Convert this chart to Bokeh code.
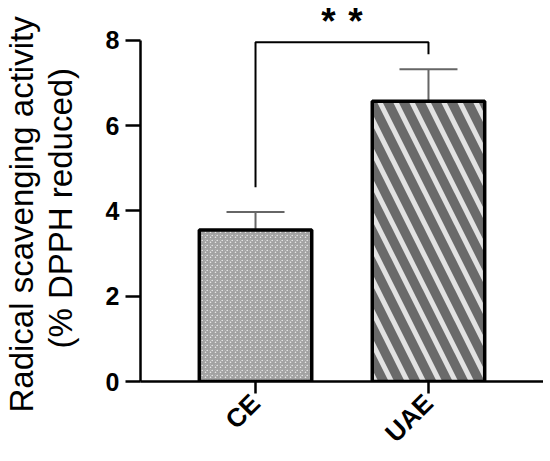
from bokeh.plotting import figure
from bokeh.models import FactorRange, Range1d, ColumnDataSource, Whisker, TeeHead, Label, Title
from bokeh.embed import file_html
from bokeh.resources import INLINE

# ---- data ----
categories = ["CE", "UAE"]
means = [3.55, 6.57]
errors = [0.42, 0.75]
y_ticks = [0, 2, 4, 6, 8]
bracket_x = ["CE", "CE", "UAE", "UAE"]
bracket_y = [4.55, 7.95, 7.95, 7.67]
significance = ["*", "*"]
y_title_lines = ["Radical scavenging activity", "(% DPPH reduced)"]

upper = [m + e for m, e in zip(means, errors)]
lower = [m - e for m, e in zip(means, errors)]

p = figure(
    width=543, height=461,
    x_range=FactorRange(factors=categories, range_padding=0.165, range_padding_units="absolute"),
    y_range=Range1d(0, 8.93),
    output_backend="svg", toolbar_location=None,
    min_border_left=139, min_border_right=0, min_border_top=0, min_border_bottom=78,
)
p.outline_line_color = None
p.grid.visible = False
p.background_fill_color = "white"

fills = ["white", "#6a6a6a"]
hatch_patterns = ["criss_cross", "left_diagonal_line"]
hatch_colors = ["#a2a2a2", "#e2e2e2"]
hatch_scales = [5, 32]
hatch_weights = [1.6, 5]

for i, c in enumerate(categories):
    p.vbar(x=[c], top=[means[i]], width=0.65, bottom=0,
           fill_color=fills[i], line_color="black", line_width=3.5,
           hatch_pattern=hatch_patterns[i], hatch_color=hatch_colors[i],
           hatch_scale=hatch_scales[i], hatch_weight=hatch_weights[i])

src = ColumnDataSource(dict(x=categories, upper=upper, lower=lower))
w = Whisker(base="x", upper="upper", lower="lower", source=src,
            line_color="#666666", line_width=2,
            upper_head=TeeHead(size=58, line_color="#666666", line_width=2),
            lower_head=TeeHead(size=58, line_color="#666666", line_width=2))
p.add_layout(w)

p.line(x=bracket_x, y=bracket_y, line_color="black", line_width=2)

for s, off in zip(significance, [-13.5, 13.5]):
    p.add_layout(Label(x=1.0, y=8.43, x_offset=off, text=s, text_font="Liberation Sans",
                       text_font_size="37px", text_font_style="bold", text_align="center",
                       text_baseline="middle", text_color="black"))

# y-axis title, one Title per line (inner line added first)
title_offsets = [-31, 33]
for line, off in reversed(list(zip(y_title_lines, title_offsets))):
    p.add_layout(Title(text=line, align="left", offset=off, standoff=0,
                       text_font="Liberation Sans", text_font_size="33px",
                       text_font_style="normal", text_color="black"), "left")

for ax in (p.xaxis[0], p.yaxis[0]):
    ax.axis_line_width = 2.5
    ax.axis_line_color = "black"
    ax.major_tick_line_width = 2.5
    ax.major_tick_line_color = "black"
    ax.major_tick_in = 0
    ax.minor_tick_line_color = None
    ax.major_label_text_font = "Liberation Sans"
    ax.major_label_text_font_style = "bold"
    ax.major_label_text_color = "black"

p.yaxis.bounds = (0, 8)
p.yaxis.ticker = y_ticks
p.yaxis.major_tick_out = 15
p.yaxis.major_label_standoff = 6
p.yaxis.major_label_text_font_size = "25px"
# blank spacer label: keeps a gap between tick labels and the title lines
p.yaxis.axis_label = " "
p.yaxis.axis_label_text_font_size = "1px"
p.yaxis.axis_label_standoff = 20

p.xaxis.major_tick_out = 12
p.xaxis.major_label_orientation = 0.785398
p.xaxis.major_label_standoff = 5
p.xaxis.major_label_text_font_size = "26px"

open("out.html", "w").write(file_html(p, INLINE))
